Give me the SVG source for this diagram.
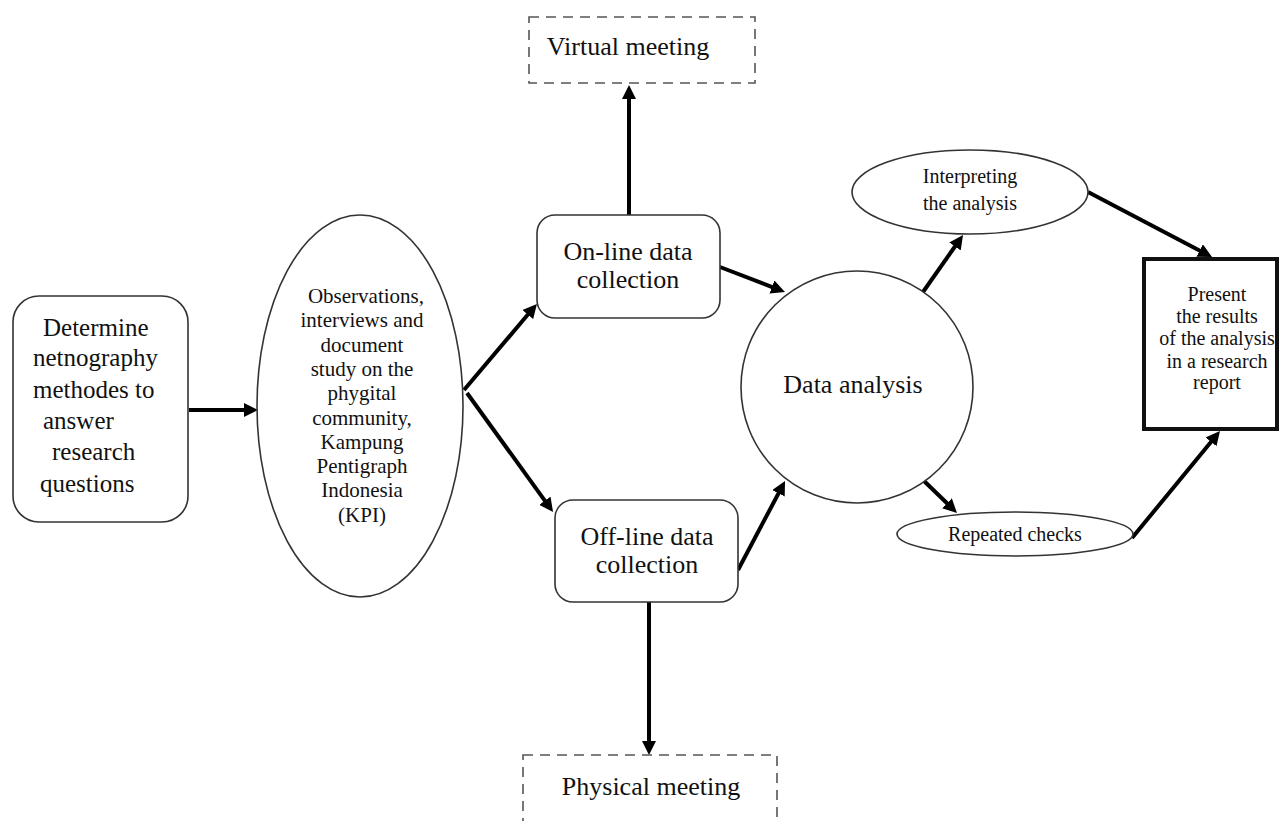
<svg xmlns="http://www.w3.org/2000/svg" width="1281" height="821" viewBox="0 0 1281 821">
<style>
text{font-family:"Liberation Serif","Times New Roman",serif;fill:#111}
.shape{fill:#fff;stroke:#333;stroke-width:1.6}
.dash{fill:none;stroke:#555;stroke-width:1.6;stroke-dasharray:10 7}
.conn{stroke:#000;stroke-width:4;fill:none}
.c{text-anchor:middle}
</style>
<defs>
<marker id="ah" markerUnits="userSpaceOnUse" markerWidth="15" markerHeight="14" refX="3" refY="7" orient="auto">
<path d="M0,0 L14,7 L0,14 z" fill="#000"/>
</marker>
</defs>
<rect width="1281" height="821" fill="#fff"/>
<g id="connectors">
<line class="conn" x1="189" y1="410" x2="247" y2="410" marker-end="url(#ah)"/>
<line class="conn" x1="464" y1="390" x2="529.8" y2="312.3" marker-end="url(#ah)"/>
<line class="conn" x1="467" y1="393" x2="546.6" y2="503.1" marker-end="url(#ah)"/>
<line class="conn" x1="720" y1="267" x2="774.7" y2="288.1" marker-end="url(#ah)"/>
<line class="conn" x1="738" y1="570" x2="779.9" y2="490.7" marker-end="url(#ah)"/>
<line class="conn" x1="923" y1="292" x2="956.7" y2="244" marker-end="url(#ah)"/>
<line class="conn" x1="923" y1="480" x2="949.1" y2="505.3" marker-end="url(#ah)"/>
<line class="conn" x1="1088" y1="192" x2="1202.3" y2="251.9" marker-end="url(#ah)"/>
<line class="conn" x1="1132" y1="538" x2="1213" y2="439.5" marker-end="url(#ah)"/>
<line class="conn" x1="629" y1="215" x2="629" y2="96" marker-end="url(#ah)"/>
<line class="conn" x1="649" y1="602" x2="649" y2="744" marker-end="url(#ah)"/>
</g>
<g id="determine">
<rect class="shape" x="13" y="296" width="175" height="226" rx="26"/>
<text font-size="25"><tspan x="43" y="336">Determine</tspan><tspan x="33" y="366">netnography</tspan><tspan x="33" y="398">methodes to</tspan><tspan x="43" y="429">answer</tspan><tspan x="52" y="460">research</tspan><tspan x="40" y="492">questions</tspan></text>
</g>
<g id="observations">
<ellipse class="shape" cx="360" cy="406" rx="103" ry="191"/>
<text class="c" font-size="21"><tspan x="366" y="303">Observations,</tspan><tspan x="362" y="327.3">interviews and</tspan><tspan x="362" y="351.6">document</tspan><tspan x="362" y="375.9">study on the</tspan><tspan x="362" y="400.2">phygital</tspan><tspan x="362" y="424.5">community,</tspan><tspan x="362" y="448.8">Kampung</tspan><tspan x="362" y="473.1">Pentigraph</tspan><tspan x="362" y="497.4">Indonesia</tspan><tspan x="362" y="521.7">(KPI)</tspan></text>
</g>
<g id="online">
<rect class="shape" x="537" y="215" width="183" height="103" rx="18"/>
<text class="c" font-size="26"><tspan x="628" y="260">On-line data</tspan><tspan x="628" y="288">collection</tspan></text>
</g>
<g id="offline">
<rect class="shape" x="555" y="500" width="183" height="102" rx="18"/>
<text class="c" font-size="26"><tspan x="647" y="545">Off-line data</tspan><tspan x="647" y="573">collection</tspan></text>
</g>
<g id="virtual">
<rect class="dash" x="529" y="17" width="226" height="66"/>
<text class="c" font-size="26" x="628" y="55">Virtual meeting</text>
</g>
<g id="physical">
<rect class="dash" x="523" y="755" width="254" height="80"/>
<text class="c" font-size="26" x="651" y="795">Physical meeting</text>
</g>
<g id="analysis">
<circle class="shape" cx="857" cy="387" r="116"/>
<text class="c" font-size="26" x="853" y="393">Data analysis</text>
</g>
<g id="interpreting">
<ellipse class="shape" cx="970" cy="192" rx="118" ry="42"/>
<text class="c" font-size="20"><tspan x="970" y="183">Interpreting</tspan><tspan x="970" y="210">the analysis</tspan></text>
</g>
<g id="repeated">
<ellipse class="shape" cx="1015" cy="534" rx="118" ry="22"/>
<text class="c" font-size="20" x="1015" y="541">Repeated checks</text>
</g>
<g id="present">
<rect x="1144" y="259" width="133" height="170" fill="#fff" stroke="#111" stroke-width="4"/>
<text class="c" font-size="20"><tspan x="1217" y="301">Present</tspan><tspan x="1217" y="323">the results</tspan><tspan x="1217" y="345">of the analysis</tspan><tspan x="1217" y="368">in a research</tspan><tspan x="1217" y="389">report</tspan></text>
</g>
</svg>
